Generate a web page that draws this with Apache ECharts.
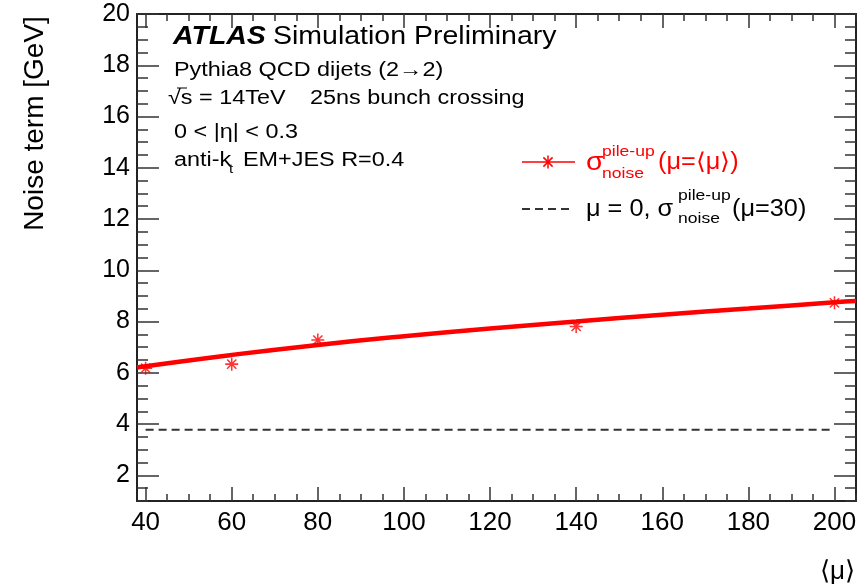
<!DOCTYPE html>
<html>
<head>
<meta charset="utf-8">
<script src="https://cdn.jsdelivr.net/npm/echarts@6/dist/echarts.min.js"></script>
<style>
  html, body { margin: 0; padding: 0; background: #fff; }
  #main { width: 868px; height: 587px; }
</style>
</head>
<body>
<div id="main"></div>
<script>
// simulated points
var muPoints = [40, 60, 80, 140, 200];
var noisePoints = [6.18, 6.34, 7.28, 7.81, 8.73];

// fitted curve, read at a few places along the red band
var fitMu = [38, 40, 60, 80, 100, 120, 140, 160, 180, 200, 205];
var fitNoise = [6.21, 6.26, 6.70, 7.09, 7.43, 7.73, 8.00, 8.27, 8.51, 8.75, 8.80];

// mu = 0 reference
var refMu = [40, 200];
var refNoise = [3.78, 3.78];

var xMajor = [40, 60, 80, 100, 120, 140, 160, 180, 200];
var xMinor = [40, 45, 50, 55, 60, 65, 70, 75, 80, 85, 90, 95, 100, 105, 110, 115, 120, 125, 130,
  135, 140, 145, 150, 155, 160, 165, 170, 175, 180, 185, 190, 195, 200, 205];
var yMajor = [2, 4, 6, 8, 10, 12, 14, 16, 18, 20];
var yMinor = [1, 1.5, 2, 2.5, 3, 3.5, 4, 4.5, 5, 5.5, 6, 6.5, 7, 7.5, 8, 8.5, 9, 9.5, 10, 10.5,
  11, 11.5, 12, 12.5, 13, 13.5, 14, 14.5, 15, 15.5, 16, 16.5, 17, 17.5, 18, 18.5, 19, 19.5, 20];

var FONT = '"Liberation Sans", Arial, Helvetica, sans-serif';
var SX = 1.17;

function draw_noise() {
  var dom = document.getElementById('main');
  var myChart = echarts.init(dom, null, { renderer: 'canvas' });

  var frame = { color: '#222', width: 2 };
  var tickStyle = { color: '#333', width: 1.5 };

  function xAx(pos, ticks, len, withLine, withLabel) {
    var a = {
      type: 'value', min: 38, max: 205, position: pos,
      axisLine: { show: withLine, onZero: false, lineStyle: frame },
      axisTick: { show: true, inside: true, length: len, customValues: ticks, lineStyle: tickStyle },
      axisLabel: { show: false },
      splitLine: { show: false }
    };
    if (withLabel) {
      a.axisLabel = { show: true, customValues: xMajor, fontSize: 26, fontFamily: FONT, color: '#000', margin: 9 };
    }
    return a;
  }
  function yAx(pos, ticks, len, withLine, withLabel) {
    var a = {
      type: 'value', min: 1, max: 20, position: pos,
      axisLine: { show: withLine, onZero: false, lineStyle: frame },
      axisTick: { show: true, inside: true, length: len, customValues: ticks, lineStyle: tickStyle },
      axisLabel: { show: false },
      splitLine: { show: false }
    };
    if (withLabel) {
      a.axisLabel = { show: true, customValues: yMajor, fontSize: 25, fontFamily: FONT, color: '#000', margin: 7 };
      a.name = 'Noise term [GeV]';
      a.nameLocation = 'middle';
      a.nameGap = 88;
      a.nameTextStyle = { fontSize: 28, fontFamily: FONT, color: '#000', padding: [0, 0, 0, 268] };
    }
    return a;
  }

  function txt(s, x, y, size, o) {
    o = o || {};
    return {
      type: 'text', x: x, y: y, scaleX: o.sx || SX, z: 100,
      style: {
        text: s,
        font: (o.italic ? 'italic ' : '') + (o.bold ? 'bold ' : '') + size + 'px ' + FONT,
        fill: o.color || '#000',
        verticalAlign: 'middle', align: o.align || 'left'
      }
    };
  }
  function seg(x1, y1, x2, y2, color, w, dash) {
    var st = { stroke: color, lineWidth: w };
    if (dash) st.lineDash = dash;
    return { type: 'line', z: 100, shape: { x1: x1, y1: y1, x2: x2, y2: y2 }, style: st };
  }

  var red = '#ff0000';
  var star = 'path://M-1.2,-10 L1.2,-10 L1.2,10 L-1.2,10 Z M-10,-1.2 L10,-1.2 L10,1.2 L-10,1.2 Z ' +
    'M-6.2,-7.9 L7.9,6.2 L6.2,7.9 L-7.9,-6.2 Z M6.2,-7.9 L7.9,-6.2 L-6.2,7.9 L-7.9,6.2 Z';

  var option = {
    animation: false,
    backgroundColor: '#fff',
    grid: { left: 137, right: 12, top: 14, bottom: 86, containLabel: false, outerBoundsMode: 'none' },
    xAxis: [
      xAx('bottom', xMajor, 14, true, true),
      xAx('bottom', xMinor, 7, false, false),
      xAx('top', xMajor, 14, true, false),
      xAx('top', xMinor, 7, false, false)
    ],
    yAxis: [
      yAx('left', yMajor, 22, true, true),
      yAx('left', yMinor, 11, false, false),
      yAx('right', yMajor, 22, true, false),
      yAx('right', yMinor, 11, false, false)
    ],
    series: [
      {
        name: 'mu0',
        type: 'line',
        data: refMu.map(function (m, i) { return [m, refNoise[i]]; }),
        showSymbol: false,
        lineStyle: { color: '#333', width: 2, type: [8, 5] },
        z: 2
      },
      {
        name: 'points',
        type: 'scatter',
        data: muPoints.map(function (m, i) { return [m, noisePoints[i]]; }),
        symbol: star,
        symbolSize: 13,
        itemStyle: { color: red },
        z: 3
      },
      {
        name: 'fit',
        type: 'line',
        data: fitMu.map(function (m, i) { return [m, fitNoise[i]]; }),
        smooth: true,
        showSymbol: false,
        lineStyle: { color: red, width: 4.5 },
        z: 4
      }
    ],
    graphic: [
      txt('ATLAS', 173, 37, 25, { bold: true, italic: true, sx: 1.14 }),
      txt('Simulation Preliminary', 273, 37, 25, { sx: 1.14 }),
      txt('Pythia8 QCD dijets (2\u21922)', 174, 70, 20),
      txt('\u221As = 14TeV', 168, 98, 20),
      seg(177, 88, 187, 88, '#000', 1),
      txt('25ns bunch crossing', 310, 98, 20),
      txt('0 < |\u03B7| < 0.3', 174, 132, 20),
      txt('anti-k', 174, 160, 20),
      txt('t', 229, 169, 13),
      txt('EM+JES R=0.4', 243, 160, 20),

      // x axis title
      txt('\u27E8\u03BC\u27E9', 855, 572, 26, { sx: 1, align: 'right' }),

      // legend: fit with points
      seg(522, 162, 575, 162, red, 1.5),
      seg(548, 155.5, 548, 168.5, red, 1.5),
      seg(543.4, 157.4, 552.6, 166.6, red, 1.5),
      seg(552.6, 157.4, 543.4, 166.6, red, 1.5),
      txt('\u03C3', 586, 163, 26, { color: red, sx: 1.1 }),
      txt('pile-up', 602, 152, 15, { color: red }),
      txt('noise', 602, 174, 15, { color: red }),
      txt('(\u03BC=\u27E8\u03BC\u27E9)', 658, 163, 23, { color: red, sx: 1.1 }),

      // legend: mu = 0
      seg(522, 209, 573, 209, '#333', 2, [8, 5]),
      txt('\u03BC = 0, \u03C3', 586, 210, 23, { sx: 1.1 }),
      txt('pile-up', 678, 196, 15),
      txt('noise', 678, 219, 15),
      txt('(\u03BC=30)', 732, 210, 23, { sx: 1.1 })
    ]
  };

  if (option && typeof option === 'object') {
    myChart.setOption(option);
  }
  window.addEventListener('resize', myChart.resize);
}
draw_noise();
</script>
</body>
</html>
